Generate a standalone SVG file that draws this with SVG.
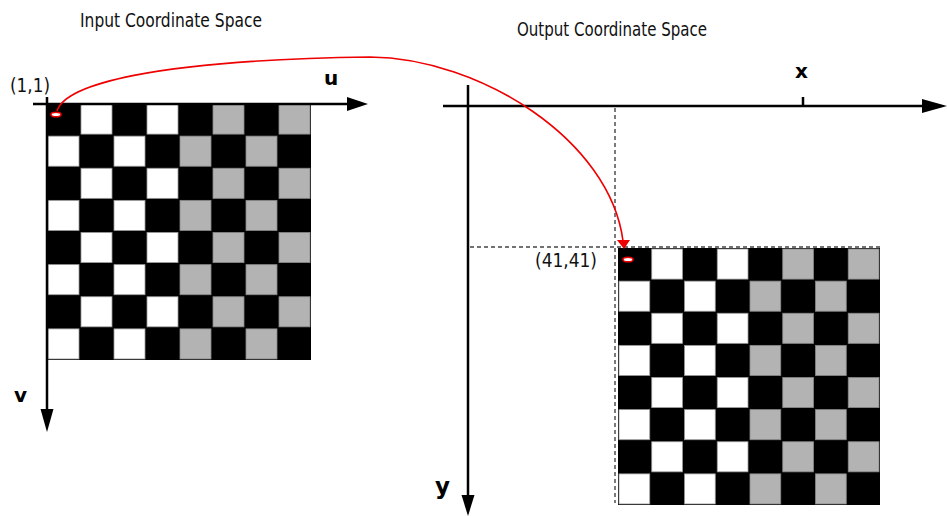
<svg xmlns="http://www.w3.org/2000/svg" xmlns:xlink="http://www.w3.org/1999/xlink" width="947" height="516" viewBox="0 0 947 516">
<style>
.w{fill:#fff;stroke:#999;stroke-width:0.8}
.g{fill:#b3b3b3;stroke:#888;stroke-width:0.8}
.axis{stroke:#000;stroke-width:2.5;fill:none}
.head{fill:#000}
.dash{stroke:#444;stroke-width:1.4;stroke-dasharray:4 3;fill:none}
.title{font-family:"Liberation Sans Narrow","DejaVu Sans Condensed","Liberation Sans",sans-serif;font-size:20px;fill:#111}
.coord{font-family:"Liberation Sans Narrow","DejaVu Sans Condensed","Liberation Sans",sans-serif;font-size:20px;fill:#111}
.ax{font-family:"DejaVu Sans",sans-serif;font-weight:bold;font-size:20px;fill:#000}
.mark{fill:#fff;stroke:#e00;stroke-width:1.6}
.conn{stroke:#e00;stroke-width:1.6;fill:none}
</style>
<defs>
<g id="rowE"><rect class="w" x="34" y="1" width="31" height="30.1"/><rect class="w" x="100" y="1" width="31" height="30.1"/><rect class="g" x="166" y="1" width="31" height="30.1"/><rect class="g" x="232" y="1" width="31" height="30.1"/></g>
<g id="rowO"><rect class="w" x="1" y="1" width="31" height="30.1"/><rect class="w" x="67" y="1" width="31" height="30.1"/><rect class="g" x="133" y="1" width="31" height="30.1"/><rect class="g" x="199" y="1" width="31" height="30.1"/></g>
<g id="board">
<rect x="0" y="0" width="264" height="257" fill="#000"/>
<use href="#rowE" y="0"/>
<use href="#rowO" y="32.125"/>
<use href="#rowE" y="64.25"/>
<use href="#rowO" y="96.375"/>
<use href="#rowE" y="128.5"/>
<use href="#rowO" y="160.625"/>
<use href="#rowE" y="192.75"/>
<use href="#rowO" y="224.875"/>
</g>
</defs>
<rect width="947" height="516" fill="#fff"/>

<g id="input-title"><text class="title" x="80" y="27" textLength="182" lengthAdjust="spacingAndGlyphs">Input Coordinate Space</text></g>
<g id="output-title"><text class="title" x="517" y="36" textLength="190" lengthAdjust="spacingAndGlyphs">Output Coordinate Space</text></g>

<g id="input-board"><use href="#board" transform="translate(47,103)"/></g>
<g id="output-board"><use href="#board" transform="translate(618,248) scale(0.9924,1)"/></g>

<g id="guides">
<line class="dash" x1="470" y1="247" x2="880" y2="247"/>
<line class="dash" x1="615" y1="108" x2="615" y2="503"/>
</g>

<g id="input-axes">
<line class="axis" x1="33" y1="104" x2="350" y2="104"/>
<polygon class="head" points="347,97 368,104 347,111"/>
<line class="axis" x1="47" y1="97" x2="47" y2="412"/>
<polygon class="head" points="40.5,409 47,432 53.5,409"/>
<text class="ax" x="324" y="85">u</text>
<text class="ax" x="14" y="402">v</text>
<text class="coord" x="10" y="92" textLength="40" lengthAdjust="spacingAndGlyphs">(1,1)</text>
</g>

<g id="output-axes">
<line class="axis" x1="443" y1="106" x2="925" y2="106"/>
<polygon class="head" points="922,99 947,106 922,113"/>
<line class="axis" x1="803" y1="97" x2="803" y2="106"/>
<line class="axis" x1="468" y1="85" x2="468" y2="497"/>
<polygon class="head" points="461.5,495 468,516 474.5,495"/>
<text class="ax" x="795" y="78">x</text>
<text class="ax" x="435" y="494" style="font-size:23px">y</text>
<text class="coord" x="535" y="267" textLength="62" lengthAdjust="spacingAndGlyphs">(41,41)</text>
</g>

<g id="pixel-in"><ellipse class="mark" cx="56" cy="114.5" rx="5" ry="2.3"/></g>
<g id="pixel-out"><ellipse class="mark" cx="628" cy="259.5" rx="5" ry="2.3"/></g>

<g id="connectors">
<path class="conn" d="M57,111 C65,85 150,60 370,57 C480,58 610,140 623,241"/>
<polygon fill="#e00" points="617,240 630,240 624,249"/>
</g>
</svg>
